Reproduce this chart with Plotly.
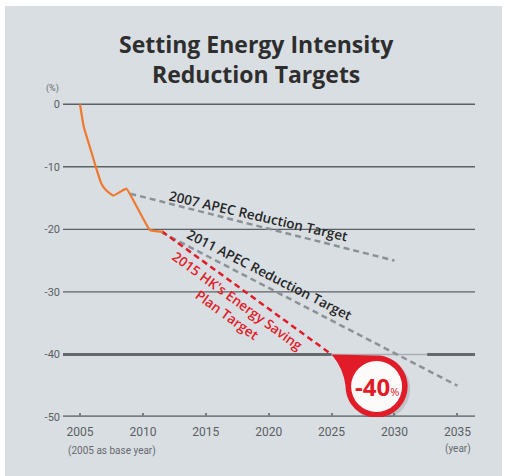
import numpy as np
import plotly.graph_objects as go

# Energy intensity change relative to 2005 (%)
actual_years = [2005, 2005.3, 2005.9, 2006.3, 2006.7, 2007.1, 2007.65, 2008.2, 2008.7, 2010.55, 2011.6]
actual_values = [0, -3.6, -7.6, -10.3, -12.7, -13.8, -14.6, -14.0, -13.5, -20.1, -20.4]

apec2007_years = [2009, 2030]
apec2007_values = [-14.3, -25]

apec2011_years = [2011.5, 2035]
apec2011_values = [-20.5, -45]

hk2015_years = [2011.5, 2025]
hk2015_values = [-20.3, -40]

x_tick_vals = [2005, 2010, 2015, 2020, 2025, 2030, 2035]
x_tick_text = ["2005", "2010", "2015", "2020", "2025", "2030", "2035"]
y_tick_vals = [0, -10, -20, -30, -40, -50]
y_tick_text = ["0", "-10", "-20", "-30", "-40", "-50"]

W, H = 507, 476
ML, MR, MT, MB = 63, 32, 98, 59
X_RANGE = [2003.65, 2036.4]
Y_RANGE = [-50, 1]

BG = "#d9dee3"
RED = "#e11b27"
ORANGE = "#f0782f"
DASH_GREY = "#8b9197"
GRID = "#5c6064"
LABEL_FONT = "Liberation Sans Narrow, Roboto, Arial, sans-serif"

fig = go.Figure()

# Target trajectories (dashed)
fig.add_trace(go.Scatter(x=apec2007_years, y=apec2007_values, mode="lines",
                         line=dict(color=DASH_GREY, width=2.5, dash="6px,4px"),
                         hoverinfo="skip", showlegend=False))
fig.add_trace(go.Scatter(x=apec2011_years, y=apec2011_values, mode="lines",
                         line=dict(color=DASH_GREY, width=2.5, dash="6px,4px"),
                         hoverinfo="skip", showlegend=False))
fig.add_trace(go.Scatter(x=hk2015_years, y=hk2015_values, mode="lines",
                         line=dict(color=RED, width=2.5, dash="6px,4px"),
                         hoverinfo="skip", showlegend=False))
# Actual trend
fig.add_trace(go.Scatter(x=actual_years, y=actual_values, mode="lines",
                         line=dict(color=ORANGE, width=2.2, shape="spline", smoothing=0.3),
                         hoverinfo="skip", showlegend=False))

shapes = []
# Background panel
shapes.append(dict(type="rect", xref="paper", yref="paper",
                   x0=(5 - ML) / (W - ML - MR), x1=(502 - ML) / (W - ML - MR),
                   y0=(H - MB - 480) / (H - MT - MB), y1=(H - MB - 6) / (H - MT - MB),
                   fillcolor=BG, line=dict(width=0), layer="below"))

# Horizontal grid lines
for v in y_tick_vals:
    if v == -50:
        shapes.append(dict(type="line", xref="paper", yref="y", x0=0, x1=1, y0=v, y1=v,
                           line=dict(color="#7b7f83", width=3.5), layer="below"))
    elif v == -40:
        target_year = hk2015_years[-1]
        shapes.append(dict(type="line", xref="x", yref="y", x0=X_RANGE[0], x1=target_year, y0=v, y1=v,
                           line=dict(color="#65696d", width=3), layer="below"))
        shapes.append(dict(type="line", xref="x", yref="y", x0=target_year, x1=2032.6, y0=v, y1=v,
                           line=dict(color="#a9aeb3", width=1.5), layer="below"))
        shapes.append(dict(type="line", xref="x", yref="y", x0=2032.6, x1=X_RANGE[1], y0=v, y1=v,
                           line=dict(color="#65696d", width=3), layer="below"))
    else:
        shapes.append(dict(type="line", xref="paper", yref="y", x0=0, x1=1, y0=v, y1=v,
                           line=dict(color=GRID, width=1.4), layer="below"))

# Callout bubble anchored at the 2025 target point (pixel offsets, y up)
tip_x, tip_y = hk2015_years[-1], hk2015_values[-1]
cx, cy, R, r_in = 45, -32, 31, 25.5


def bubble_path(dx=0.0, dy=0.0):
    ang = np.linspace(np.pi / 2, -np.pi, 60)
    pts = [(0 + dx, 0 + dy), (cx + dx, cy + R + dy)]
    pts += [(cx + R * np.cos(a) + dx, cy + R * np.sin(a) + dy) for a in ang]
    d = "M " + " L ".join(f"{px:.2f},{py:.2f}" for px, py in pts)
    return d + f" Q {12 + dx:.2f},{-14 + dy:.2f} {dx:.2f},{dy:.2f} Z"


shapes.append(dict(type="path", xsizemode="pixel", ysizemode="pixel", xanchor=tip_x, yanchor=tip_y,
                   xref="x", yref="y", path=bubble_path(2.5, -2.5),
                   fillcolor="rgba(60,70,80,0.18)", line=dict(width=0)))
shapes.append(dict(type="path", xsizemode="pixel", ysizemode="pixel", xanchor=tip_x, yanchor=tip_y,
                   xref="x", yref="y", path=bubble_path(),
                   fillcolor=RED, line=dict(width=0)))
shapes.append(dict(type="circle", xsizemode="pixel", ysizemode="pixel", xanchor=tip_x, yanchor=tip_y,
                   xref="x", yref="y", x0=cx - r_in, x1=cx + r_in, y0=cy - r_in, y1=cy + r_in,
                   fillcolor="#fdfafa", line=dict(width=0)))

annotations = []
# Title
annotations.append(dict(xref="paper", yref="paper", x=(256 - ML) / (W - ML - MR),
                        y=(H - MB - 59) / (H - MT - MB), xanchor="center", yanchor="middle",
                        text="Setting Energy Intensity<br>Reduction Targets", showarrow=False,
                        font=dict(family="Open Sans, sans-serif", size=23, color="#2e2e2e",
                                  weight="bold"),
                        align="center"))
# Unit labels
annotations.append(dict(xref="paper", yref="paper", x=(52 - ML) / (W - ML - MR),
                        y=(H - MB - 89) / (H - MT - MB), xanchor="center", yanchor="middle",
                        text="(%)", showarrow=False,
                        font=dict(family=LABEL_FONT, size=9, color="#666a6e")))
annotations.append(dict(xref="paper", yref="paper", x=(112 - ML) / (W - ML - MR),
                        y=(H - MB - 451) / (H - MT - MB), xanchor="center", yanchor="middle",
                        text="(2005 as base year)", showarrow=False,
                        font=dict(family=LABEL_FONT, size=10, color="#666a6e")))
annotations.append(dict(xref="paper", yref="paper", x=(458 - ML) / (W - ML - MR),
                        y=(H - MB - 449) / (H - MT - MB), xanchor="center", yanchor="middle",
                        text="(year)", showarrow=False,
                        font=dict(family=LABEL_FONT, size=10, color="#666a6e")))

# Trajectory labels
annotations.append(dict(x=2019.2, y=-17.9, text="2007 APEC Reduction Target", showarrow=False,
                        textangle=13, xanchor="center", yanchor="middle",
                        font=dict(family="Open Sans, sans-serif", size=13.5, color="#262626",
                                  weight=600)))
annotations.append(dict(x=2020.1, y=-27.3, text="2011 APEC Reduction Target", showarrow=False,
                        textangle=27, xanchor="center", yanchor="middle",
                        font=dict(family="Open Sans, sans-serif", size=13.5, color="#262626",
                                  weight=600)))
annotations.append(dict(x=2017.1, y=-32.5, text="2015 HK's Energy Saving<br>Plan Target",
                        showarrow=False, textangle=36, xanchor="center", yanchor="middle",
                        align="center",
                        font=dict(family="Open Sans, sans-serif", size=13.5, color=RED, weight=600)))

# Callout value
annotations.append(dict(x=tip_x, y=tip_y, xshift=cx, yshift=cy, showarrow=False,
                        xanchor="center", yanchor="middle",
                        text=f"<b>{tip_y:.0f}</b><span style='font-size:11px'>%</span>",
                        font=dict(family="Open Sans, sans-serif", size=24, color=RED)))

fig.update_layout(
    width=W, height=H,
    margin=dict(l=ML, r=MR, t=MT, b=MB),
    paper_bgcolor="white", plot_bgcolor="rgba(0,0,0,0)",
    shapes=shapes, annotations=annotations,
    showlegend=False,
    xaxis=dict(range=X_RANGE, tickvals=x_tick_vals, ticktext=x_tick_text,
               showgrid=False, zeroline=False, showline=False,
               ticks="inside", ticklen=4, tickwidth=1.5, tickcolor="#7b7f83",
               ticklabelstandoff=6,
               tickfont=dict(family=LABEL_FONT, size=12, color="#5a5e62")),
    yaxis=dict(range=Y_RANGE, tickvals=y_tick_vals, ticktext=y_tick_text,
               showgrid=False, zeroline=False, showline=False, ticks="",
               ticklabelstandoff=2,
               tickfont=dict(family=LABEL_FONT, size=11, color="#5a5e62")),
)

fig.write_html("out.html")
